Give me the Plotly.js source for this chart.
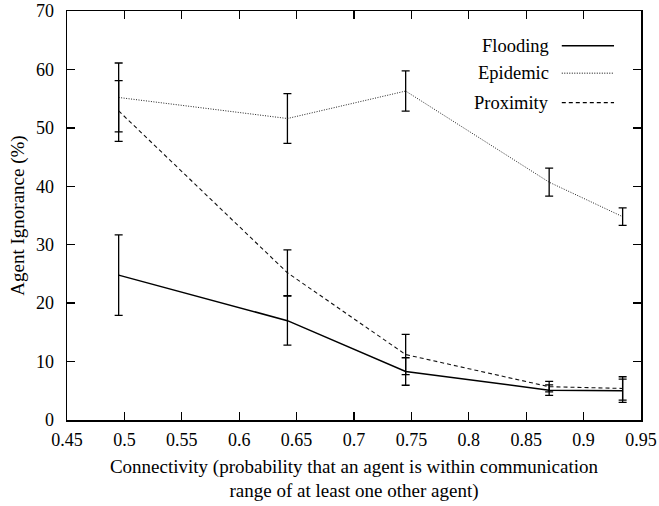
<!DOCTYPE html>
<html>
<head>
<meta charset="utf-8">
<script src="https://cdn.plot.ly/plotly-3.0.1.min.js"></script>
<style>html,body{margin:0;padding:0;background:#fff;}#chart{width:659px;height:506px;}</style>
</head>
<body>
<div id="chart"></div>
<script>
const connectivity = [0.495, 0.642, 0.745, 0.870, 0.934];
const floodingMean = [24.8, 17.0, 8.3, 5.1, 5.0];
const floodingErr  = [6.9, 4.2, 2.35, 0.9, 2.0];
const epidemicMean = [55.2, 51.6, 56.3, 40.7, 34.8];
const epidemicErr  = [5.9, 4.25, 3.45, 2.4, 1.5];
const proximityMean = [52.9, 25.2, 11.2, 5.7, 5.4];
const proximityErr  = [5.2, 3.9, 3.45, 0.9, 2.0];
const seriesNames = ["Flooding", "Epidemic", "Proximity"];
const xTicks = [0.45, 0.5, 0.55, 0.6, 0.65, 0.7, 0.75, 0.8, 0.85, 0.9, 0.95];
const yTicks = [0, 10, 20, 30, 40, 50, 60, 70];

const font = 'Liberation Serif';
function errBar(arr){ return {type:'data', array:arr, visible:true, color:'#000', thickness:1.3, width:4}; }

const traces = [
  {x: connectivity, y: floodingMean, mode:'lines', name: seriesNames[0],
   line:{color:'#000', width:1.5, dash:'solid'}, error_y: errBar(floodingErr)},
  {x: connectivity, y: epidemicMean, mode:'lines', name: seriesNames[1],
   line:{color:'#222', width:1, dash:'1px,1.5px'}, error_y: errBar(epidemicErr)},
  {x: connectivity, y: proximityMean, mode:'lines', name: seriesNames[2],
   line:{color:'#111', width:1.1, dash:'4px,3px'}, error_y: errBar(proximityErr)}
];

const legendY = [0.915, 0.848, 0.776];
const legendDash = ['solid', '1px,1.5px', '4px,3px'];
const legendWidth = [1.5, 1, 1.1];
const shapes = [], annotations = [];
seriesNames.forEach((n, i) => {
  annotations.push({xref:'paper', yref:'paper', x:0.843, y:legendY[i], xanchor:'right', yanchor:'middle',
    text:n, showarrow:false, font:{family:font, size:18.5, color:'#000'}});
  shapes.push({type:'line', xref:'paper', yref:'paper', x0:0.862, x1:0.953, y0:legendY[i], y1:legendY[i],
    line:{color:'#000', width:legendWidth[i], dash:legendDash[i]}});
});

const layout = {
  width:659, height:506,
  margin:{l:67, r:18, t:11, b:86},
  paper_bgcolor:'#fff', plot_bgcolor:'#fff',
  showlegend:false,
  font:{family:font, size:18, color:'#000'},
  xaxis:{range:[0.45,0.95], tickvals:xTicks, ticktext:xTicks.map(String),
    ticks:'inside', ticklen:8, tickwidth:1.3, tickcolor:'#000',
    showline:true, linecolor:'#000', linewidth:1.5, mirror:'ticks',
    showgrid:false, zeroline:false, ticklabelstandoff:3,
    tickfont:{family:font, size:18, color:'#000'},
    title:{text:'Connectivity (probability that an agent is within communication<br>range of at least one other agent)',
      font:{family:font, size:19, color:'#000'}, standoff:10}},
  yaxis:{range:[0,70], tickvals:yTicks, ticktext:yTicks.map(String),
    ticks:'inside', ticklen:8, tickwidth:1.3, tickcolor:'#000',
    showline:true, linecolor:'#000', linewidth:1.5, mirror:'ticks',
    showgrid:false, zeroline:false, ticklabelstandoff:8,
    tickfont:{family:font, size:18, color:'#000'},
    title:{text:'Agent Ignorance (%)', font:{family:font, size:19, color:'#000'}, standoff:6}},
  shapes:shapes, annotations:annotations
};

Plotly.newPlot('chart', traces, layout, {displayModeBar:false, staticPlot:true});
</script>
</body>
</html>
